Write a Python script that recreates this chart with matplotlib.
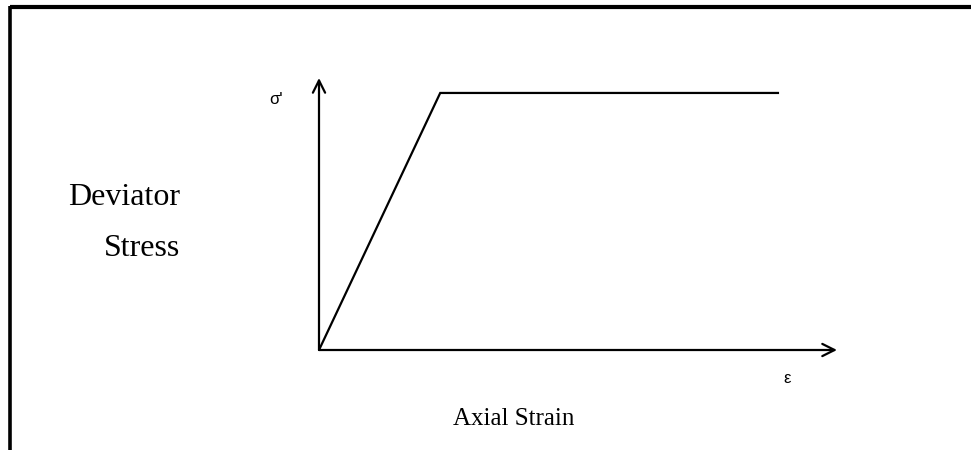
import matplotlib.pyplot as plt
from matplotlib.lines import Line2D

# idealised stress-strain curve (elastic - perfectly plastic), normalised units
strain = [0.0, 0.234, 0.886]
stress = [0.0, 0.945, 0.945]

W, H = 971, 450
fig = plt.figure(figsize=(W / 100, H / 100), dpi=100)
fig.patch.set_facecolor('white')

# frame: only top and left edges drawn
fig.add_artist(Line2D([9.5 / W, 1.0], [1 - 7 / H, 1 - 7 / H], color='black', lw=3.0,
                      solid_capstyle='butt'))
fig.add_artist(Line2D([9.5 / W, 9.5 / W], [0.0, 1 - 5.5 / H], color='black', lw=2.6,
                      solid_capstyle='butt'))

# axes placed so origin lands at the reference position
ax = fig.add_axes([319 / W, 100 / H, 518 / W, 272 / H])
ax.set_xlim(0, 1)
ax.set_ylim(0, 1)
ax.axis('off')

arrow = dict(arrowstyle='->', lw=1.6, color='black', mutation_scale=22, shrinkA=0, shrinkB=0)
ax.annotate('', xy=(1.0, 0.0), xytext=(0.0, 0.0), arrowprops=arrow)
ax.annotate('', xy=(0.0, 1.0), xytext=(0.0, 0.0), arrowprops=arrow)

ax.plot(strain, stress, color='black', lw=1.6, solid_joinstyle='miter')

ax.text(-0.083, 0.92, "σ'", fontsize=12, family='Liberation Sans', ha='center', va='center')
ax.text(0.904, -0.105, "ε", fontsize=12, family='Liberation Sans', ha='center', va='center')

serif = 'Liberation Serif'
fig.text(180 / W, 1 - 198 / H, 'Deviator', fontsize=23, family=serif, ha='right', va='center')
fig.text(180 / W, 1 - 249 / H, 'Stress', fontsize=23, family=serif, ha='right', va='center')
fig.text(514 / W, 1 - 419 / H, 'Axial Strain', fontsize=18, family=serif, ha='center', va='center')

fig.savefig('out.png', dpi=100, facecolor='white')
